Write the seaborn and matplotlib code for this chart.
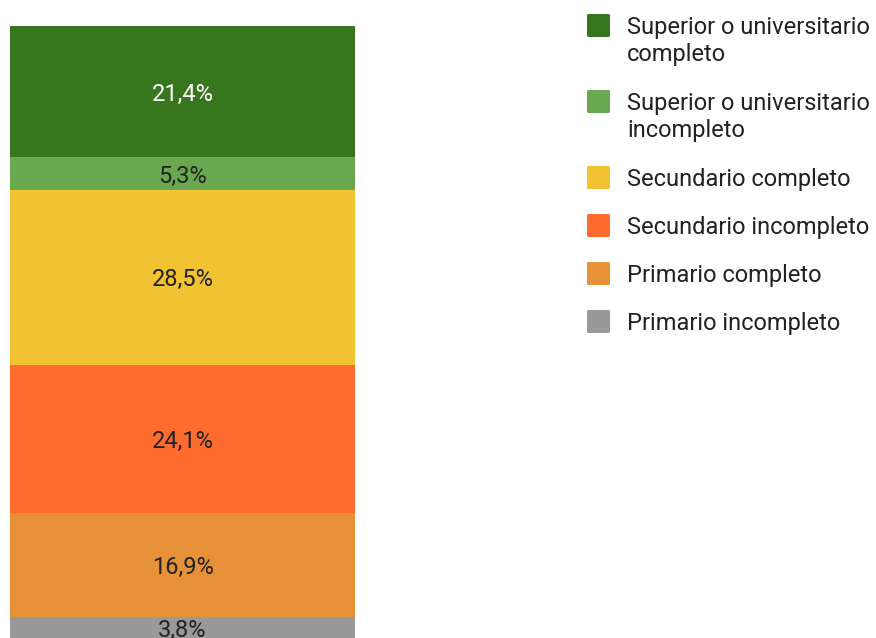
import pandas as pd
import seaborn as sns
import matplotlib.pyplot as plt
from matplotlib.patches import FancyBboxPatch

# Data (bottom to top of the stack)
categories = [
    'Primario incompleto',
    'Primario completo',
    'Secundario incompleto',
    'Secundario completo',
    'Superior o universitario\nincompleto',
    'Superior o universitario\ncompleto',
]
values = [3.8, 16.9, 24.1, 28.5, 5.3, 21.4]
colors = ['#999999', '#e69138', '#ff6d2e', '#f1c232', '#6aa84f', '#38761d']
label_colors = ['#222222', '#222222', '#222222', '#222222', '#222222', '#ffffff']

df = pd.DataFrame({'cat': categories, 'value': values, 'color': colors})
df['bottom'] = df['value'].cumsum() - df['value']

sns.set_style('white')
plt.rcParams['font.family'] = ['Roboto', 'DejaVu Sans']

W, H = 876, 638
fig = plt.figure(figsize=(W / 100, H / 100), dpi=100)
# bar runs a little past the bottom edge of the picture
ax = fig.add_axes([10 / W, -2 / H, 345 / W, 614 / H])

# Stacked single bar
for i, row in df.iterrows():
    sns.barplot(x=[0], y=[row['value']], bottom=row['bottom'], color=row['color'],
                width=0.8, saturation=1, ax=ax, linewidth=0)
    lab = f"{row['value']:.1f}%".replace('.', ',')
    ax.text(0, row['bottom'] + row['value'] / 2, lab, ha='center', va='center_baseline',
            fontsize=17, color=label_colors[i])

ax.set_xlim(-0.4, 0.4)
ax.set_ylim(0, 100)
ax.axis('off')

# Legend (top to bottom)
y = 25
for cat, col in zip(categories[::-1], colors[::-1]):
    sq = FancyBboxPatch(((587) / W, 1 - (y + 12) / H), 23 / W, 23 / H,
                        boxstyle='round,pad=0,rounding_size=0.002',
                        transform=fig.transFigure, facecolor=col, edgecolor='none')
    fig.patches.append(sq)
    lines = cat.split('\n')
    for j, line in enumerate(lines):
        fig.text(627 / W, 1 - (y + 27 * j) / H, line, ha='left', va='center_baseline',
                 fontsize=17, color='#212121')
    y += 48 + 28 * (len(lines) - 1)

plt.savefig('out.png', dpi=100)
